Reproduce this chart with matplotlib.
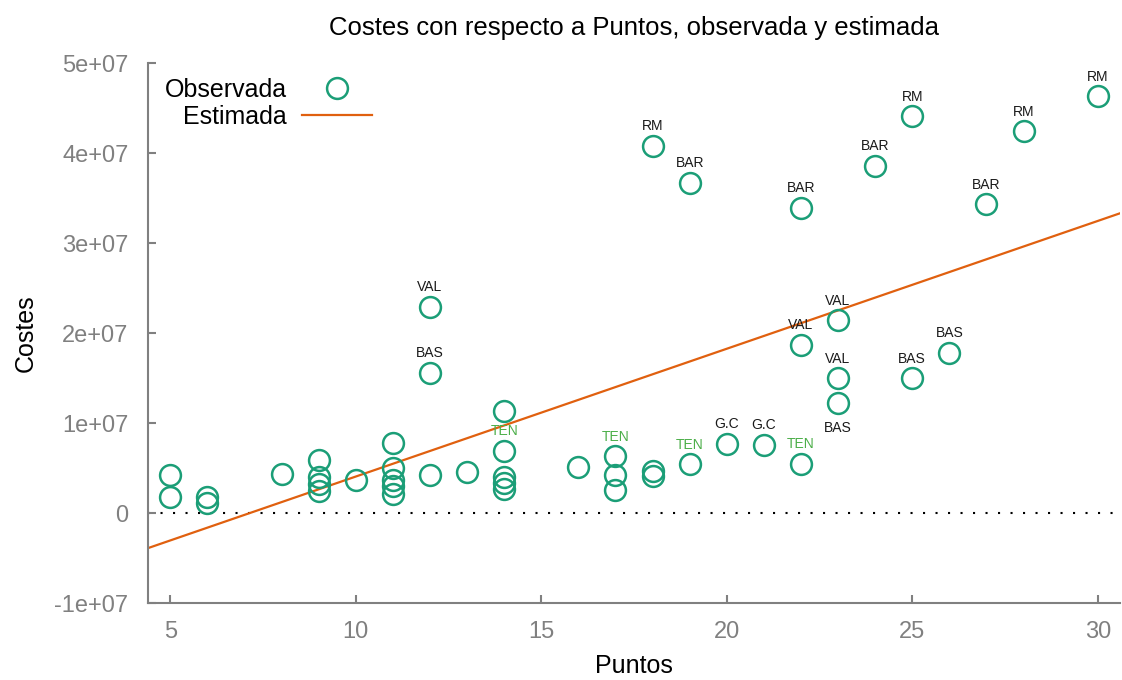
import numpy as np
import matplotlib
matplotlib.use("Agg")
import matplotlib.pyplot as plt

plt.rcParams['font.family'] = ['Liberation Sans', 'DejaVu Sans']

# puntos, costes (en millones) y etiqueta de cada equipo
puntos = [5, 5, 6, 6, 8, 9, 9, 9, 9, 10,
          11, 11, 11, 11, 11, 12, 12, 12, 13, 14,
          14, 14, 14, 14, 16, 17, 17, 17, 18, 18,
          18, 19, 19, 20, 21, 22, 22, 22, 23, 23,
          23, 24, 25, 25, 26, 27, 28, 30]
costes_m = [4.2, 1.8, 1.8, 1.1, 4.3, 5.9, 4.0, 3.2, 2.4, 3.7,
            7.8, 5.0, 3.7, 3.0, 2.1, 22.9, 15.6, 4.2, 4.6, 11.3,
            6.9, 4.0, 3.3, 2.7, 5.1, 6.3, 4.2, 2.6, 40.8, 4.7,
            4.1, 36.7, 5.4, 7.7, 7.6, 33.9, 18.7, 5.5, 21.4, 15.0,
            12.2, 38.6, 44.1, 15.0, 17.8, 34.3, 42.4, 46.3]
etiquetas = ['', '', '', '', '', '', '', '', '', '',
             '', '', '', '', '', 'VAL', 'BAS', '', '', '',
             'TEN', '', '', '', '', 'TEN', '', '', 'RM', '',
             '', 'BAR', 'TEN', 'G.C', 'G.C', 'BAR', 'VAL', 'TEN', 'VAL', 'VAL',
             'BAS', 'BAR', 'RM', 'BAS', 'BAS', 'BAR', 'RM', 'RM']
# etiquetas que van debajo del punto
debajo = [40]

# recta estimada: costes = a + b * puntos
coef = [-1.015e7, 1.42e6]

xlim = [4.4, 30.6]
ylim = [-1e7, 5e7]
xticks = [5, 10, 15, 20, 25, 30]
yticks = [-1e7, 0, 1e7, 2e7, 3e7, 4e7, 5e7]
ytick_labels = ['-1e+07', '0', '1e+07', '2e+07', '3e+07', '4e+07', '5e+07']

verde = '#1b9e77'
naranja = '#e0600f'
gris = '#808080'

costes = np.array(costes_m) * 1e6

fig = plt.figure(figsize=(11.22, 6.8), dpi=100)
ax = fig.add_axes([148 / 1122, 1 - 603 / 680, 972 / 1122, 540 / 680])

ax.axhline(0, color='black', lw=1.5, ls=(0, (1, 5)), zorder=1)

ax.plot(puntos, costes, 'o', ms=15, mfc='none', mec=verde, mew=1.8,
        label='Observada', zorder=3)

xs = np.array(xlim)
ax.plot(xs, coef[0] + coef[1] * xs, color=naranja, lw=1.6,
        label='Estimada', zorder=2)

for i, et in enumerate(etiquetas):
    if et == '':
        continue
    col = '#4daf4a' if et == 'TEN' else '#1a1a1a'
    dy = -18 if i in debajo else 14
    ax.annotate(et, (puntos[i], costes[i]), xytext=(0, dy),
                textcoords='offset points', ha='center', va='center',
                fontsize=10, color=col)

ax.set_xlim(xlim)
ax.set_ylim(ylim)
ax.set_xticks(xticks)
ax.set_yticks(yticks)
ax.set_yticklabels(ytick_labels)

for s in ['top', 'right']:
    ax.spines[s].set_visible(False)
for s in ['left', 'bottom']:
    ax.spines[s].set_color(gris)
    ax.spines[s].set_linewidth(1.5)
ax.tick_params(direction='in', length=6, width=1.5, color=gris,
               labelcolor=gris, labelsize=17)
ax.tick_params(axis='y', pad=14)
ax.tick_params(axis='x', pad=13)

ax.set_title('Costes con respecto a Puntos, observada y estimada',
             fontsize=18.5, pad=20)
ax.set_xlabel('Puntos', fontsize=18, labelpad=8)
ax.set_ylabel('Costes', fontsize=18, labelpad=12)

ax.legend(loc='upper left', bbox_to_anchor=(0.017, 0.972), frameon=False,
          markerfirst=False, numpoints=1, fontsize=18, handlelength=2.8,
          handletextpad=0.6, labelspacing=0.1, borderpad=0, borderaxespad=0)

fig.savefig('out.png', dpi=100)
